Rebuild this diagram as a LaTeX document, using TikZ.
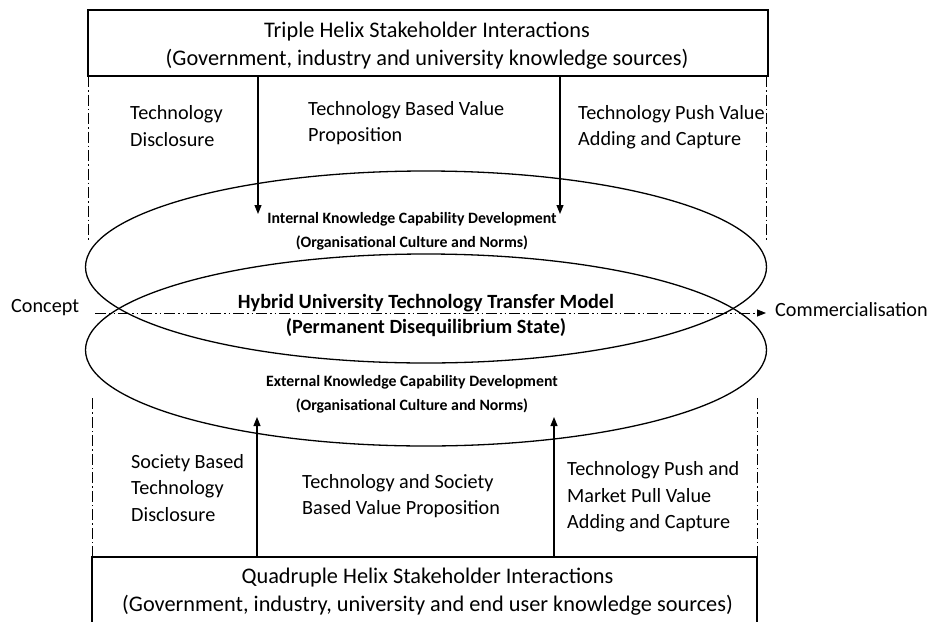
\documentclass[tikz,border=0pt]{standalone}
\usepackage{fontspec}
\setmainfont{Carlito}
\usetikzlibrary{shapes.geometric,arrows.meta}
\begin{document}
\begin{tikzpicture}[x=1pt,y=-1pt,
  big/.style={font=\fontsize{20.2}{26.5}\selectfont},
  boxtext/.style={font=\fontsize{22.3}{28}\selectfont},
  small/.style={font=\bfseries\fontsize{15.8}{24}\selectfont},
  mid/.style={font=\bfseries\fontsize{20.2}{25}\selectfont},
  label/.style={big, align=left, inner sep=0pt, anchor=west},
  frame/.style={draw, line width=1.4pt, inner sep=0pt},
  helix/.style={draw, line width=1.3pt, ellipse, minimum width=681pt, minimum height=192pt, inner sep=0pt},
  dashdot/.style={line width=0.9pt, dash pattern=on 11pt off 3pt on 1.5pt off 3pt},
  dashdotdot/.style={line width=0.9pt, dash pattern=on 11pt off 3pt on 1.5pt off 3pt on 1.5pt off 3pt},
  flow/.style={line width=1.1pt, -{Triangle[length=9pt,width=7pt]}}]
\useasboundingbox (0,0) rectangle (933,621);
\fill[white] (0,0) rectangle (933,621);

% stakeholder boxes
\node[frame, minimum width=680pt, minimum height=66pt] (top) at (428,43) {};
\node[boxtext, align=center, inner sep=0pt] (toptext) at (427,46)
  {Triple Helix Stakeholder Interactions\\(Government, industry and university knowledge sources)};
\node[frame, minimum width=665pt, minimum height=100pt] (bottom) at (424.5,607) {};
\node[boxtext, align=center, inner sep=0pt] (bottomtext) at (427.5,591.5)
  {Quadruple Helix Stakeholder Interactions\\(Government, industry, university and end user knowledge sources)};

% the two capability ellipses
\node[helix] (upper) at (426,267) {};
\node[helix] (lower) at (426,350) {};

% ellipse texts
\node[small, align=center, inner sep=0pt] (internal) at (412,231)
  {Internal Knowledge Capability Development\\(Organisational Culture and Norms)};
\node[mid, align=center, inner sep=0pt] (hybrid) at (426,315.5)
  {Hybrid University Technology Transfer Model\\(Permanent Disequilibrium State)};
\node[small, align=center, inner sep=0pt] (external) at (412,394)
  {External Knowledge Capability Development\\(Organisational Culture and Norms)};

% value labels
\node[label] (tdisc) at (130,126) {Technology\\Disclosure};
\node[label] (tprop) at (308,123) {Technology Based Value\\Proposition};
\node[label] (tpush) at (578,127) {Technology Push Value\\Adding and Capture};
\node[label] (sdisc) at (131,488) {Society Based\\Technology\\Disclosure};
\node[label] (sprop) at (302,496) {Technology and Society\\Based Value Proposition};
\node[label] (spush) at (567,497) {Technology Push and\\Market Pull Value\\Adding and Capture};

% concept to commercialisation axis
\node[big, inner sep=0pt, anchor=west] (concept) at (11,308) {Concept};
\node[big, inner sep=0pt, anchor=west] (comm) at (775,310) {Commercialisation};
\coordinate (axisA) at (95,313);
\coordinate (axisB) at (766,313);
\draw[dashdotdot, -{Triangle[length=9pt,width=7pt]}] (axisA) -- (axisB);

% dash-dot side boundaries
\coordinate (tl1) at (88,76);  \coordinate (tl2) at (88,240);
\coordinate (tr1) at (766,76); \coordinate (tr2) at (766,240);
\coordinate (bl1) at (92,398); \coordinate (bl2) at (92,557);
\coordinate (br1) at (757,398); \coordinate (br2) at (757,557);
\draw[dashdot] (tl1) -- (tl2);
\draw[dashdot] (tr1) -- (tr2);
\draw[dashdot] (bl2) -- (bl1);
\draw[dashdot] (br2) -- (br1);

% knowledge flows
\coordinate (inA) at (258,214);
\coordinate (inB) at (560,214);
\coordinate (exA) at (257,417);
\coordinate (exB) at (554,417);
\draw[flow] (top.south -| inA) -- (inA);
\draw[flow] (top.south -| inB) -- (inB);
\draw[flow] (bottom.north -| exA) -- (exA);
\draw[flow] (bottom.north -| exB) -- (exB);
\end{tikzpicture}
\end{document}
